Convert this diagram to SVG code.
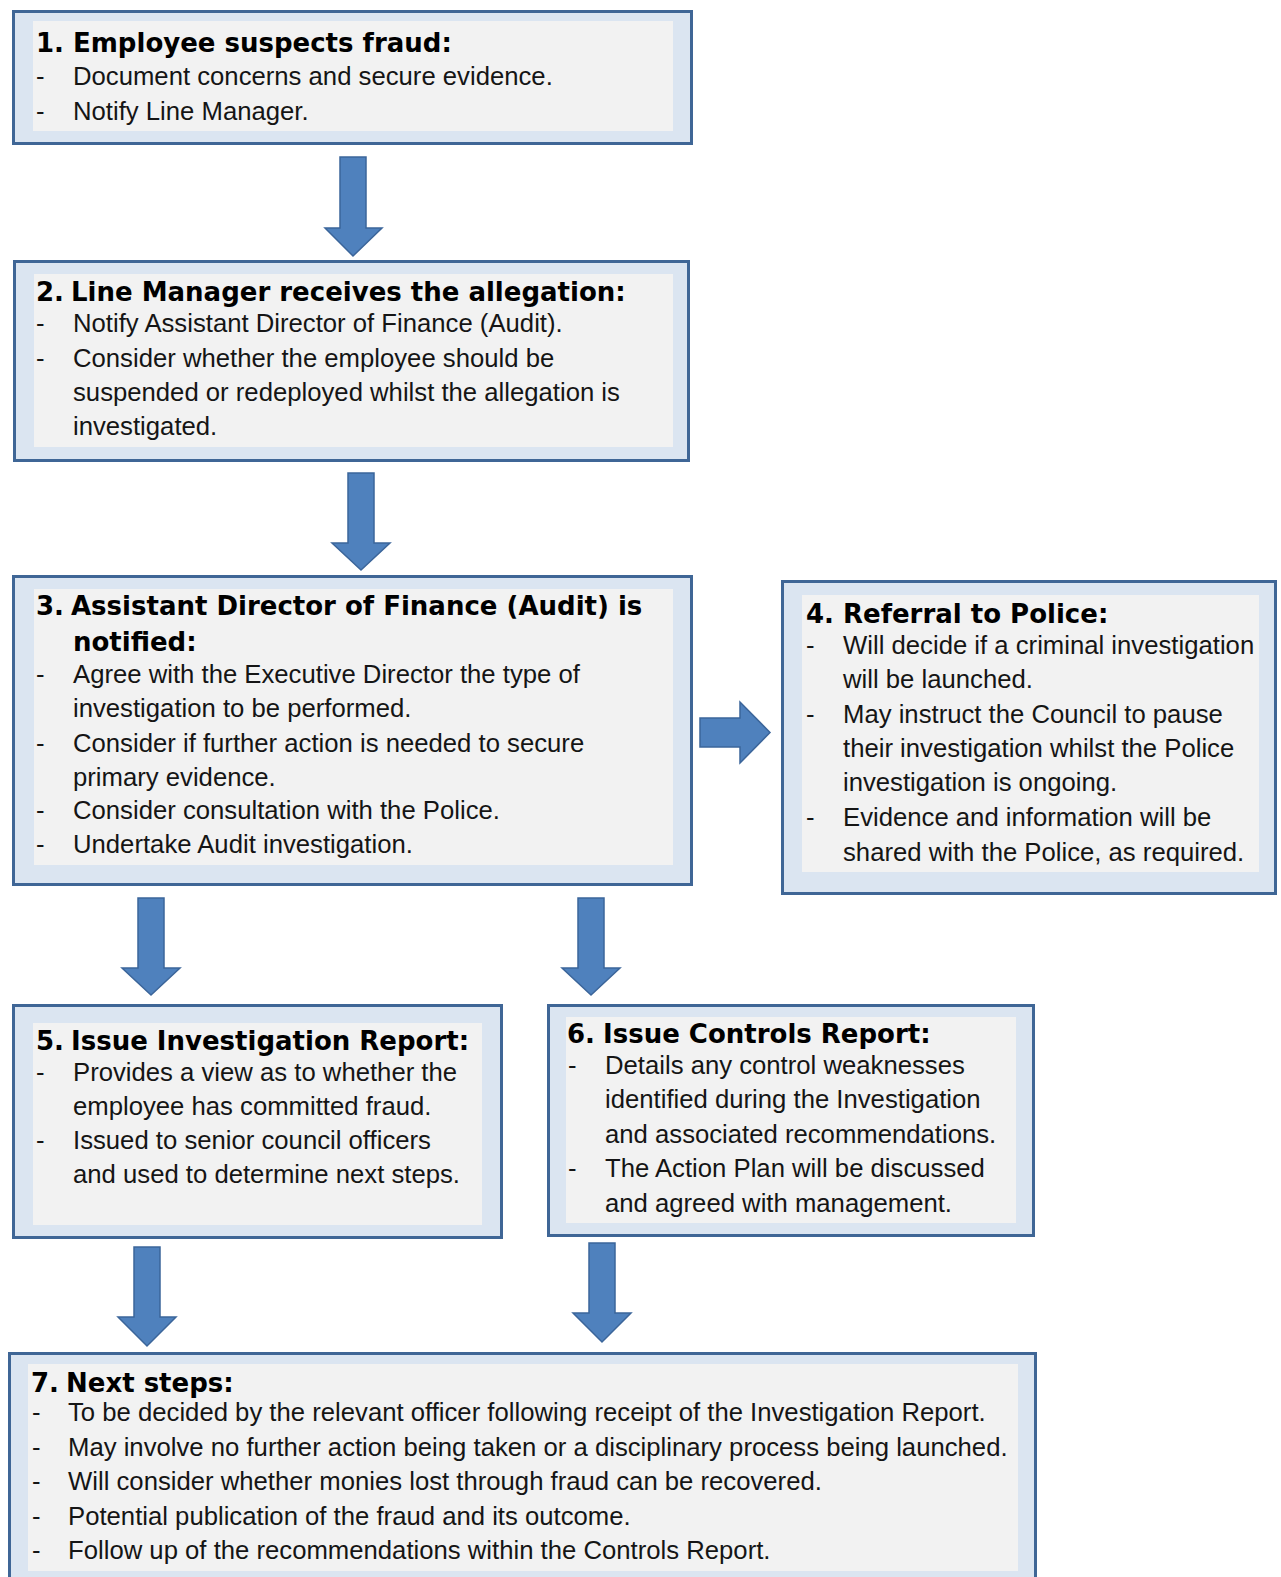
<svg xmlns="http://www.w3.org/2000/svg" width="1281" height="1577" viewBox="0 0 1281 1577">
<style>
.outer{fill:#dbe5f1;stroke:#3f6696;stroke-width:3}
.inner{fill:#f2f2f2}
.arrow{fill:#4f81bd;stroke:#3b659a;stroke-width:1.5;stroke-linejoin:miter}
.h{font-family:"DejaVu Sans",Verdana,sans-serif;font-weight:bold;font-size:26px;fill:#000}
.num{font-family:"DejaVu Sans",Verdana,sans-serif;font-weight:bold;font-size:26px;fill:#000}
.b{font-family:"Liberation Sans",Arial,sans-serif;font-size:25.7px;fill:#151515}
</style>
<rect width="1281" height="1577" fill="#ffffff"/>

<g id="connectors">
<polygon class="arrow" points="340,157 366,157 366,228 382,228 353,256 325,228 340,228"/>
<polygon class="arrow" points="348,473 374,473 374,543 390,543 361,570 332,543 348,543"/>
<polygon class="arrow" points="700,718 740,718 740,702 770,732.5 740,763 740,747 700,747"/>
<polygon class="arrow" points="138,898 164,898 164,968 180,968 151,995 122,968 138,968"/>
<polygon class="arrow" points="578,898 604,898 604,968 620,968 591,995 562,968 578,968"/>
<polygon class="arrow" points="134,1247 160,1247 160,1317 176,1317 147,1346 118,1317 134,1317"/>
<polygon class="arrow" points="589,1243 615,1243 615,1313 631,1313 602,1342 573,1313 589,1313"/>
</g>

<g id="node1">
<rect class="outer" x="13.5" y="11.5" width="678" height="132"/>
<rect class="inner" x="33" y="21" width="640" height="110"/>
<text class="num" x="36" y="52">1.</text>
<text class="h" x="73" y="52">Employee suspects fraud:</text>
<text class="b" x="36" y="85">-</text>
<text class="b" x="73" y="85">Document concerns and secure evidence.</text>
<text class="b" x="36" y="120">-</text>
<text class="b" x="73" y="120">Notify Line Manager.</text>
</g>

<g id="node2">
<rect class="outer" x="14.5" y="261.5" width="674" height="199"/>
<rect class="inner" x="34" y="274" width="639" height="173"/>
<text class="num" x="36" y="301">2.</text>
<text class="h" x="71" y="301">Line Manager receives the allegation:</text>
<text class="b" x="36" y="332">-</text>
<text class="b" x="73" y="332">Notify Assistant Director of Finance (Audit).</text>
<text class="b" x="36" y="367">-</text>
<text class="b" x="73" y="367">Consider whether the employee should be</text>
<text class="b" x="73" y="401">suspended or redeployed whilst the allegation is</text>
<text class="b" x="73" y="435">investigated.</text>
</g>

<g id="node3">
<rect class="outer" x="13.5" y="576.5" width="678" height="308"/>
<rect class="inner" x="34" y="589" width="639" height="276"/>
<text class="num" x="36" y="615">3.</text>
<text class="h" x="71" y="615">Assistant Director of Finance (Audit) is</text>
<text class="h" x="73" y="651">notified:</text>
<text class="b" x="36" y="683">-</text>
<text class="b" x="73" y="683">Agree with the Executive Director the type of</text>
<text class="b" x="73" y="717">investigation to be performed.</text>
<text class="b" x="36" y="752">-</text>
<text class="b" x="73" y="752">Consider if further action is needed to secure</text>
<text class="b" x="73" y="786">primary evidence.</text>
<text class="b" x="36" y="819">-</text>
<text class="b" x="73" y="819">Consider consultation with the Police.</text>
<text class="b" x="36" y="853">-</text>
<text class="b" x="73" y="853">Undertake Audit investigation.</text>
</g>

<g id="node4">
<rect class="outer" x="782.5" y="581.5" width="493" height="312"/>
<rect class="inner" x="802" y="595" width="457" height="277"/>
<text class="num" x="806" y="623">4.</text>
<text class="h" x="843" y="623">Referral to Police:</text>
<text class="b" x="806" y="654">-</text>
<text class="b" x="843" y="654">Will decide if a criminal investigation</text>
<text class="b" x="843" y="688">will be launched.</text>
<text class="b" x="806" y="723">-</text>
<text class="b" x="843" y="723">May instruct the Council to pause</text>
<text class="b" x="843" y="757">their investigation whilst the Police</text>
<text class="b" x="843" y="791">investigation is ongoing.</text>
<text class="b" x="806" y="826">-</text>
<text class="b" x="843" y="826">Evidence and information will be</text>
<text class="b" x="843" y="861">shared with the Police, as required.</text>
</g>

<g id="node5">
<rect class="outer" x="13.5" y="1005.5" width="488" height="232"/>
<rect class="inner" x="33" y="1023" width="449" height="202"/>
<text class="num" x="36" y="1050">5.</text>
<text class="h" x="71" y="1050">Issue Investigation Report:</text>
<text class="b" x="36" y="1081">-</text>
<text class="b" x="73" y="1081">Provides a view as to whether the</text>
<text class="b" x="73" y="1115">employee has committed fraud.</text>
<text class="b" x="36" y="1149">-</text>
<text class="b" x="73" y="1149">Issued to senior council officers</text>
<text class="b" x="73" y="1183">and used to determine next steps.</text>
</g>

<g id="node6">
<rect class="outer" x="548.5" y="1005.5" width="485" height="230"/>
<rect class="inner" x="566" y="1017" width="450" height="206"/>
<text class="num" x="567" y="1043">6.</text>
<text class="h" x="603" y="1043">Issue Controls Report:</text>
<text class="b" x="568" y="1074">-</text>
<text class="b" x="605" y="1074">Details any control weaknesses</text>
<text class="b" x="605" y="1108">identified during the Investigation</text>
<text class="b" x="605" y="1143">and associated recommendations.</text>
<text class="b" x="568" y="1177">-</text>
<text class="b" x="605" y="1177">The Action Plan will be discussed</text>
<text class="b" x="605" y="1212">and agreed with management.</text>
</g>

<g id="node7">
<rect class="outer" x="9.5" y="1353.5" width="1026" height="240"/>
<rect class="inner" x="28" y="1364" width="990" height="207"/>
<text class="num" x="31" y="1392">7.</text>
<text class="h" x="66" y="1392">Next steps:</text>
<text class="b" x="32" y="1421">-</text>
<text class="b" x="68" y="1421">To be decided by the relevant officer following receipt of the Investigation Report.</text>
<text class="b" x="32" y="1456">-</text>
<text class="b" x="68" y="1456">May involve no further action being taken or a disciplinary process being launched.</text>
<text class="b" x="32" y="1490">-</text>
<text class="b" x="68" y="1490">Will consider whether monies lost through fraud can be recovered.</text>
<text class="b" x="32" y="1525">-</text>
<text class="b" x="68" y="1525">Potential publication of the fraud and its outcome.</text>
<text class="b" x="32" y="1559">-</text>
<text class="b" x="68" y="1559">Follow up of the recommendations within the Controls Report.</text>
</g>
</svg>
